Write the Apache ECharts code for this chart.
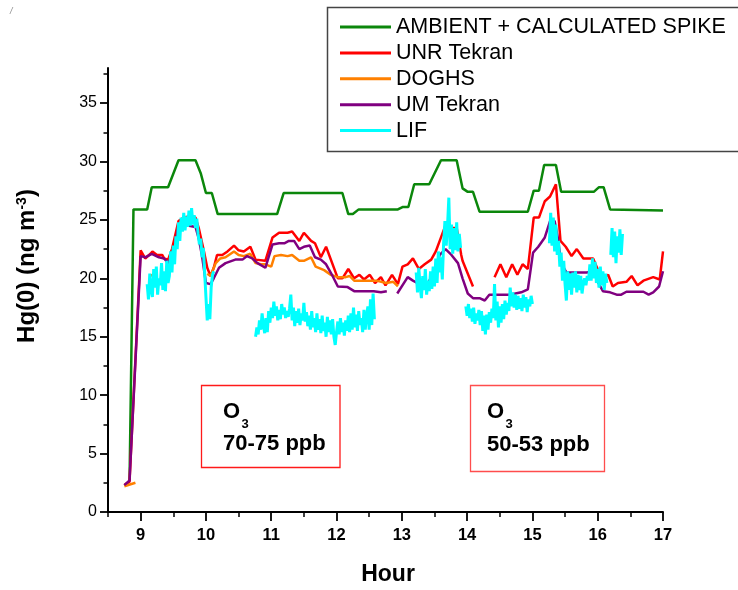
<!DOCTYPE html>
<html>
<head>
<meta charset="utf-8">
<script src="https://cdn.jsdelivr.net/npm/echarts@6/dist/echarts.min.js"></script>
<style>html,body{margin:0;padding:0;background:#fff}#c{width:738px;height:590px}</style>
</head>
<body>
<div id="c"></div>
<script>
// ---------- DATA ----------
const seriesNames = ['AMBIENT + CALCULATED SPIKE', 'UNR Tekran', 'DOGHS', 'UM Tekran', 'LIF'];
const xTickLabels = [9, 10, 11, 12, 13, 14, 15, 16, 17];
const xMinorTicks = [8.5, 9.5, 10.5, 11.5, 12.5, 13.5, 14.5, 15.5, 16.5];
const yTickLabels = [0, 5, 10, 15, 20, 25, 30, 35];
const yMinorTicks = [2.5, 7.5, 12.5, 17.5, 22.5, 27.5, 32.5, 37.5];

const ambientSpike = [[8.83,2.7],[8.89,25.9],[9.10,25.9],[9.17,27.8],[9.42,27.8],[9.58,30.1],[9.84,30.1],[9.92,29.0],[10.00,27.3],[10.09,27.3],[10.18,25.5],[11.09,25.5],[11.19,27.3],[12.09,27.3],[12.18,25.5],[12.25,25.5],[12.34,25.9],[12.94,25.9],[13.01,26.1],[13.10,26.1],[13.19,28.05],[13.42,28.05],[13.60,30.1],[13.84,30.1],[13.93,27.7],[14.01,27.4],[14.09,27.4],[14.19,25.7],[14.93,25.7],[15.02,27.5],[15.10,27.5],[15.18,29.7],[15.36,29.7],[15.44,27.4],[15.94,27.4],[16.02,27.8],[16.09,27.8],[16.19,25.9],[17.0,25.8]];

const unrTekran = [[8.75,2.3],[8.83,2.6],[9.0,22.4],[9.07,21.7],[9.15,22.1],[9.18,22.3],[9.25,22.0],[9.33,22.0],[9.36,21.7],[9.42,21.6],[9.48,22.5],[9.58,24.9],[9.66,25.2],[9.74,25.3],[9.84,25.2],[9.89,24.3],[9.97,22.3],[10.02,20.9],[10.07,20.2],[10.12,20.9],[10.17,22.0],[10.25,22.0],[10.33,22.3],[10.43,22.8],[10.50,22.4],[10.58,22.3],[10.68,22.7],[10.76,21.6],[10.91,21.5],[11.02,23.5],[11.12,23.9],[11.25,23.9],[11.32,24.0],[11.43,23.2],[11.50,23.9],[11.61,23.2],[11.67,23.0],[11.76,21.8],[11.84,22.7],[12.02,20.0],[12.09,20.0],[12.18,20.8],[12.27,20.0],[12.35,20.3],[12.42,19.9],[12.51,20.3],[12.59,19.6],[12.68,20.1],[12.75,19.4],[12.85,20.3],[12.94,19.5],[13.01,21.0],[13.09,21.2],[13.17,21.7],[13.26,20.8],[13.35,21.2],[13.45,21.6],[13.52,22.3],[13.60,23.5],[13.68,24.7],[13.76,24.3],[13.84,24.3],[13.91,22.0],[13.93,21.5],[14.09,19.3],[14.25,null],[14.42,20.1],[14.51,21.2],[14.60,20.1],[14.69,21.2],[14.77,20.3],[14.85,21.2],[14.93,20.8],[15.02,25.2],[15.10,25.2],[15.19,26.6],[15.27,27.0],[15.36,28.05],[15.43,23.2],[15.51,22.7],[15.60,21.9],[15.68,22.5],[15.78,21.7],[15.93,21.7],[16.02,20.5],[16.08,20.0],[16.16,20.3],[16.23,19.3],[16.31,19.6],[16.44,19.7],[16.52,20.2],[16.61,19.4],[16.70,19.8],[16.85,20.1],[16.95,19.9],[17.0,22.3]];

const doghs = [[8.75,2.2],[8.92,2.5],[9.0,null],[9.15,20.3],[9.23,20.1],[9.5,null],[10.02,20.4],[10.07,20.2],[10.15,21.3],[10.22,21.7],[10.30,21.8],[10.43,22.3],[10.50,22.0],[10.58,21.9],[10.68,22.1],[10.76,21.3],[10.84,21.2],[10.91,21.2],[11.00,21.0],[11.05,21.9],[11.15,22.0],[11.25,21.9],[11.32,22.0],[11.43,21.5],[11.50,21.5],[11.61,21.8],[11.68,21.0],[11.81,20.7],[11.91,20.3],[12.02,20.1],[12.14,20.1],[12.20,20.2],[12.27,19.8],[12.61,19.8],[12.76,19.6],[12.87,19.7],[12.94,19.3]];

const umTekran = [[8.75,2.3],[8.83,2.7],[9.0,21.9],[9.07,21.8],[9.17,22.1],[9.28,21.8],[9.36,21.7],[9.42,21.3],[9.51,22.3],[9.58,24.5],[9.74,24.5],[9.84,24.4],[9.89,23.4],[9.94,21.9],[10.00,19.6],[10.07,19.5],[10.12,20.0],[10.20,20.9],[10.30,21.3],[10.45,21.6],[10.56,21.6],[10.63,21.9],[10.71,21.7],[10.79,21.3],[10.91,20.9],[11.02,22.9],[11.12,23.0],[11.20,23.0],[11.27,23.2],[11.35,23.2],[11.43,22.5],[11.50,22.7],[11.59,22.8],[11.67,21.8],[11.76,21.6],[11.84,21.2],[11.93,20.3],[12.02,19.3],[12.17,19.25],[12.27,18.9],[12.44,18.9],[12.57,18.9],[12.68,18.8],[12.77,18.9],[12.85,null],[12.93,18.7],[13.09,20.1],[13.17,19.8],[13.27,19.5],[13.40,19.6],[13.50,20.6],[13.58,22.0],[13.67,22.5],[13.76,22.0],[13.86,21.3],[13.93,20.0],[14.01,18.7],[14.09,18.3],[14.19,18.3],[14.27,18.1],[14.34,18.6],[14.50,18.6],[14.65,18.6],[14.83,18.8],[14.93,19.05],[15.01,22.2],[15.09,22.7],[15.19,23.5],[15.27,24.9],[15.34,24.9],[15.39,23.45],[15.44,21.3],[15.52,20.5],[15.67,20.5],[15.83,20.5],[15.94,20.6],[16.01,19.6],[16.08,18.9],[16.19,18.8],[16.29,18.6],[16.36,18.6],[16.44,18.85],[16.60,18.85],[16.70,18.85],[16.78,18.6],[16.85,18.8],[16.94,19.3],[17.0,20.6]];

// LIF: segments sampled every 0.02 h, starting at the listed hours
const lifStep = 0.02;
const lifStarts = [9.10, 10.76, 13.22, 13.98, 15.26, 16.20];
const lifSeg1 = [19.5,18.2,20.4,19.0,18.4,20.8,19.2,21.0,18.6,20.0,19.4,21.3,19.0,20.6,18.9,21.5,19.6,20.2,22.3,20.5,22.8,21.2,23.6,22.5,24.8,23.2,25.2,24.0,25.6,24.1,25.3,24.4,25.8,24.5,26.0,24.6,25.4,24.3,25.1,23.8,22.9,23.4,21.8,22.6,20.5,18.4,16.4,17.8,16.5,19.2,20.3,20.6];
const lifSeg2 = [15.0,15.8,15.2,16.4,15.6,17.0,16.0,15.3,16.6,15.4,17.2,16.2,17.5,16.6,18.0,16.8,17.6,16.4,17.3,16.5,17.8,16.9,17.5,16.6,17.2,16.7,17.4,18.6,16.4,17.5,15.9,17.2,16.2,17.4,16.0,17.0,16.4,17.9,16.3,17.1,15.9,16.8,15.6,17.2,15.8,16.6,15.4,17.0,15.6,16.5,15.3,16.8,15.5,16.2,15.0,16.7,15.4,16.4,15.2,16.5,15.0,14.3,15.4,16.3,15.2,16.6,15.4,16.2,15.1,16.4,15.5,16.8,15.4,17.0,15.6,17.5,15.8,16.9,15.5,17.2,16.0,16.6,15.4,17.3,15.6,16.8,17.6,15.6,18.2,16.0,18.7,16.5];
const lifSeg3 = [20.5,18.8,20.9,19.4,18.3,20.2,19.0,20.8,18.6,19.8,18.9,20.6,19.1,21.0,19.3,21.7,19.6,22.3,20.5,21.8,19.9,23.0,24.9,22.8,24.5,26.9,22.5,24.6,22.1,24.3,22.4,24.8,22.3,23.8,22.6];
const lifSeg4 = [17.6,16.8,17.8,16.6,17.4,16.3,17.5,16.1,17.0,16.4,17.3,16.0,17.2,15.5,16.8,15.2,16.9,15.6,17.1,16.2,17.4,16.6,19.5,16.4,18.0,15.8,17.6,16.2,17.8,16.5,18.1,16.9,17.9,17.2,19.2,17.6,18.8,17.5,18.6,17.3,18.5,17.4,18.3,17.2,18.6,17.5,18.4,17.1,18.2,17.6,18.5,17.8];
const lifSeg5 = [23.0,25.6,22.8,25.2,22.3,24.6,22.0,23.2,21.0,22.2,19.8,21.5,19.5,18.1,20.6,19.0,20.4,18.6,20.5,19.2,20.6,18.8,20.3,19.0,20.2,18.7,19.6,20.0,19.4,20.2,19.8,21.2,19.8,21.7,20.0,21.4,19.6,20.8,19.2,21.0,19.4,20.6,19.0,20.4,19.6];
const lifSeg6 = [22.0,24.3,21.8,24.0,21.3,23.6,22.2,24.2,22.0,23.8];

// ---------- BUILD ----------
const lifSegs = [lifSeg1, lifSeg2, lifSeg3, lifSeg4, lifSeg5, lifSeg6];
const lif = [];
lifSegs.forEach((seg, k) => {
  seg.forEach((v, i) => lif.push([+(lifStarts[k] + i * lifStep).toFixed(3), v]));
  if (k < lifSegs.length - 1) lif.push([lifStarts[k] + seg.length * lifStep, null]);
});

const FONT = 'Liberation Sans, Arial, sans-serif';
const colors = ['#0b870b', '#ff0000', '#ff8000', '#800080', '#00ffff'];
const dataSets = [ambientSpike, unrTekran, doghs, umTekran, lif];

const chart = echarts.init(document.getElementById('c'), null, {renderer: 'canvas'});

const series = seriesNames.map((name, i) => ({
  name, type: 'line', data: dataSets[i], showSymbol: false, symbol: 'none',
  xAxisIndex: 0, yAxisIndex: 0, connectNulls: false,
  lineStyle: {color: colors[i], width: i === 4 ? 3 : 2.5},
  itemStyle: {color: colors[i]}, z: 2 + i, animation: false
}));

chart.setOption({
  animation: false,
  backgroundColor: '#fff',
  grid: {left: 108, right: 75, top: 68, bottom: 78, containLabel: false},
  legend: {
    orient: 'vertical', left: 340, top: 16, padding: 0,
    itemWidth: 51, itemHeight: 3, itemGap: 3.9, icon: 'rect',
    data: seriesNames,
    textStyle: {fontFamily: FONT, fontSize: 21.5, color: '#000', lineHeight: 21}
  },
  xAxis: [{
    type: 'value', min: 8.5, max: 17, position: 'bottom',
    axisLine: {show: true, onZero: false, lineStyle: {color: '#000', width: 2}},
    axisTick: {show: true, length: 9, customValues: xTickLabels, lineStyle: {color: '#000', width: 1.8}},
    axisLabel: {customValues: xTickLabels, margin: 15, fontFamily: FONT, fontSize: 16.5, fontWeight: 'bold', color: '#000'},
    splitLine: {show: false}
  }, {
    type: 'value', min: 8.5, max: 17, position: 'bottom',
    axisLine: {show: false, onZero: false},
    axisTick: {show: true, length: 5, customValues: xMinorTicks, lineStyle: {color: '#000', width: 1.5}},
    axisLabel: {show: false}, splitLine: {show: false}
  }],
  yAxis: [{
    type: 'value', min: 0, max: 38, position: 'left',
    axisLine: {show: true, onZero: false, lineStyle: {color: '#000', width: 2}},
    axisTick: {show: true, length: 8, customValues: yTickLabels, lineStyle: {color: '#000', width: 1.8}},
    axisLabel: {customValues: yTickLabels, margin: 11, fontFamily: FONT, fontSize: 16, color: '#000'},
    splitLine: {show: false}
  }, {
    type: 'value', min: 0, max: 38, position: 'left',
    axisLine: {show: false, onZero: false},
    axisTick: {show: true, length: 4.5, customValues: yMinorTicks, lineStyle: {color: '#000', width: 1.5}},
    axisLabel: {show: false}, splitLine: {show: false}
  }],
  series,
  graphic: [
    {type: 'rect', shape: {x: 327.5, y: 7.5, width: 420, height: 144}, style: {fill: 'none', stroke: '#444', lineWidth: 1.5}, z: 1},
    {type: 'text', x: 10, y: 7, style: {text: '/', font: 'italic 9px ' + FONT, fill: '#888'}},
    {type: 'rect', shape: {x: 201.5, y: 385.5, width: 138.5, height: 82}, style: {fill: 'none', stroke: '#ff1a1a', lineWidth: 1.3}},
    {type: 'rect', shape: {x: 470.5, y: 385.5, width: 134, height: 86}, style: {fill: 'none', stroke: '#ff4d4d', lineWidth: 1.3}},
    {type: 'text', x: 223, y: 412, style: {text: 'O', font: 'bold 22px ' + FONT, fill: '#000', verticalAlign: 'middle'}},
    {type: 'text', x: 241.5, y: 424, style: {text: '3', font: 'bold 13px ' + FONT, fill: '#000', verticalAlign: 'middle'}},
    {type: 'text', x: 223, y: 444, style: {text: '70-75 ppb', font: 'bold 22px ' + FONT, fill: '#000', verticalAlign: 'middle'}},
    {type: 'text', x: 487, y: 412, style: {text: 'O', font: 'bold 22px ' + FONT, fill: '#000', verticalAlign: 'middle'}},
    {type: 'text', x: 505.5, y: 424, style: {text: '3', font: 'bold 13px ' + FONT, fill: '#000', verticalAlign: 'middle'}},
    {type: 'text', x: 487, y: 444.5, style: {text: '50-53 ppb', font: 'bold 22px ' + FONT, fill: '#000', verticalAlign: 'middle'}},
    {type: 'text', x: 388, y: 575, style: {text: 'Hour', font: 'bold 23px ' + FONT, fill: '#000', align: 'center', verticalAlign: 'middle'}},
    {type: 'text', x: 27, y: 266, rotation: Math.PI / 2,
      style: {text: 'Hg(0) (ng m{sup|-3})', font: 'bold 24px ' + FONT, fill: '#000', align: 'center', verticalAlign: 'middle',
        rich: {sup: {fontSize: 14, fontWeight: 'bold', fontFamily: FONT, verticalAlign: 'top', fill: '#000', padding: [0, 0, 7, 0]}}}}
  ]
});
</script>
</body>
</html>
